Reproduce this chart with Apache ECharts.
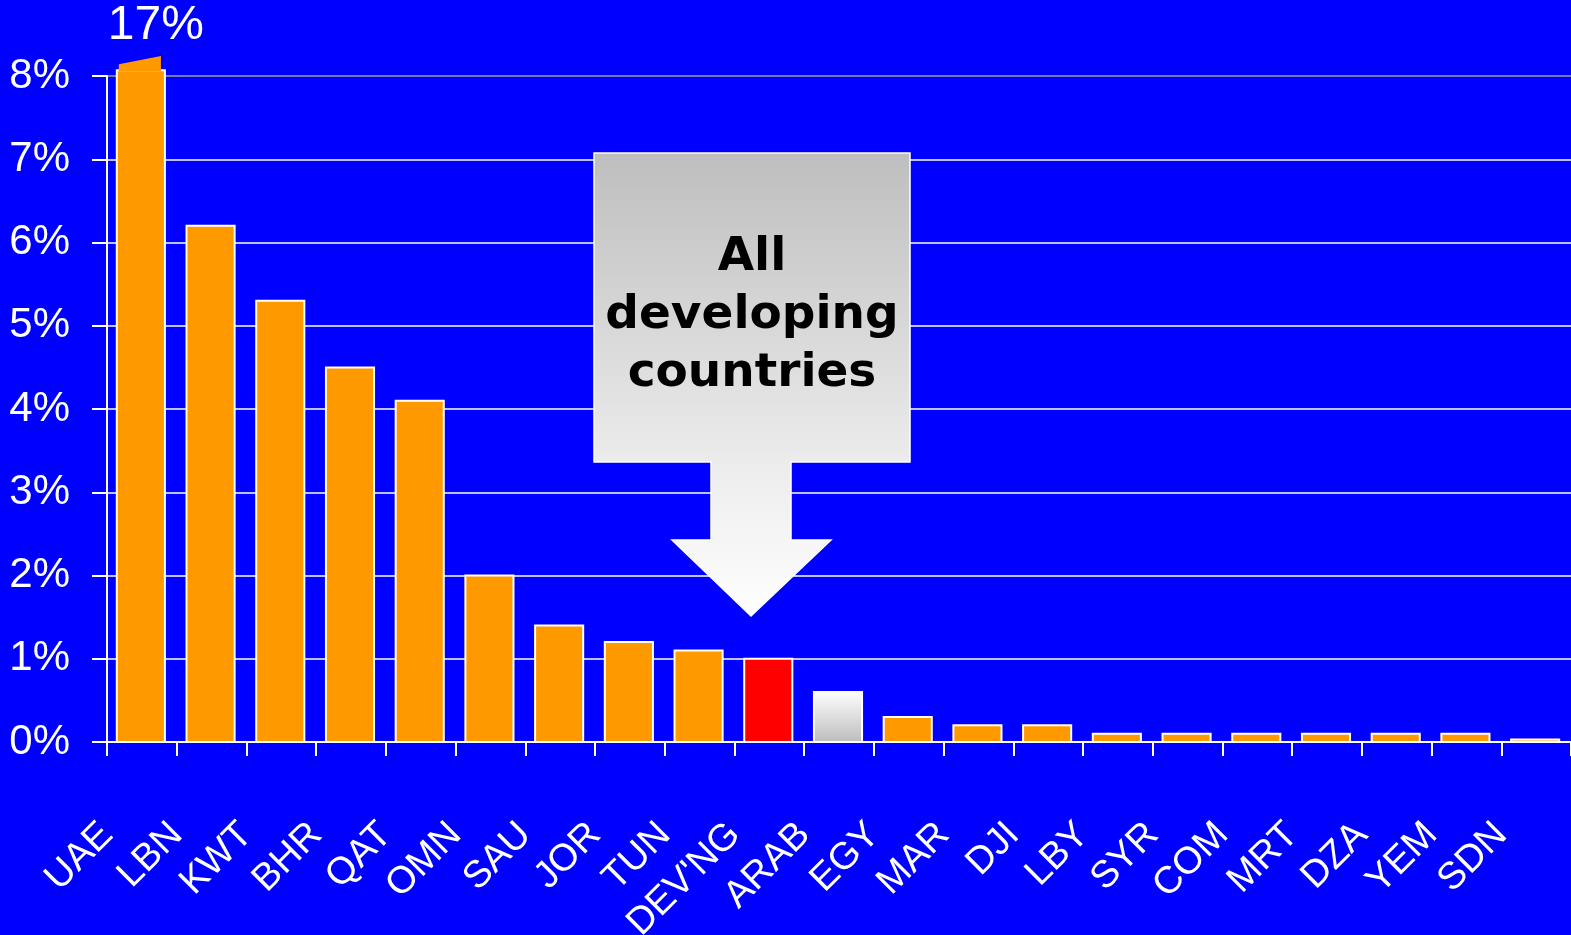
<!DOCTYPE html>
<html>
<head>
<meta charset="utf-8">
<title>Bar chart</title>
<script src="https://cdn.jsdelivr.net/npm/echarts@6/dist/echarts.min.js"></script>
<style>
html,body{margin:0;padding:0;background:#0000ff;}
#chart{width:1571px;height:935px;}
</style>
</head>
<body>
<div id="chart"></div>
<script>
// 数据
var countries = ['UAE','LBN','KWT','BHR','QAT','OMN','SAU','JOR','TUN',"DEV'NG",'ARAB','EGY','MAR','DJI','LBY','SYR','COM','MRT','DZA','YEM','SDN'];
var shares = [17, 6.2, 5.3, 4.5, 4.1, 2.0, 1.4, 1.2, 1.1, 1.0, 0.6, 0.3, 0.2, 0.2, 0.1, 0.1, 0.1, 0.1, 0.1, 0.1, 0.03];
var yTicks = [0, 1, 2, 3, 4, 5, 6, 7, 8];
var highlight = {9: 'red', 10: 'grey'};

var ORANGE = '#ff9900';
var yMax = yTicks[yTicks.length - 1];

var oChart = echarts.init(document.getElementById('chart'));

function barFill(i){
    if(highlight[i] === 'red'){
        return '#ff0000';
    }
    if(highlight[i] === 'grey'){
        return new echarts.graphic.LinearGradient(0, 0, 0, 1, [
            {offset: 0, color: '#ffffff'},
            {offset: 1, color: '#bcbcbc'}
        ]);
    }
    return ORANGE;
}

// 柱子：超出坐标轴的值画成折断的顶部
function renderBar(params, api){
    var i = api.value(0), v = api.value(1);
    var shown = Math.min(v, yMax + 0.07);
    var base = api.coord([i, 0]);
    var top = api.coord([i, shown]);
    var w = api.size([1, 0])[0] * 0.69;
    var x = base[0] - w / 2 - 1;
    var children = [{
        type: 'rect',
        shape: {x: x, y: top[1], width: w, height: base[1] - top[1]},
        style: {fill: barFill(i), stroke: '#ffffff', lineWidth: 2}
    }];
    if(v > yMax){
        var yl = api.coord([i, yMax + 0.14])[1];
        var yr = api.coord([i, yMax + 0.24])[1];
        children.push({
            type: 'polygon',
            shape: {points: [[x + 2, top[1] + 1], [x + 2, yl], [x + w - 4, yr], [x + w - 4, top[1] + 1]]},
            style: {fill: ORANGE}
        });
        children.push({
            type: 'text',
            style: {
                text: v + '%', x: base[0] + 14, y: yr - 6,
                align: 'center', verticalAlign: 'bottom',
                fill: '#ffffff', font: '48px "Liberation Sans"'
            }
        });
    }
    return {type: 'group', children: children};
}

var option = {
    backgroundColor: '#0000ff',
    animation: false,
    grid: {left: 107, right: 0, top: 76, bottom: 193, containLabel: false, outerBoundsMode: 'none'},
    xAxis: [
        {
            type: 'category',
            data: countries,
            axisLine: {show: true, lineStyle: {color: '#ffffff', width: 2}},
            axisTick: {show: true, length: 14, lineStyle: {color: '#ffffff', width: 2}},
            axisLabel: {show: false},
            splitLine: {show: false},
            z: 10
        },
        {
            // 标签放在刻度线处
            type: 'value',
            min: 0, max: countries.length, interval: 1,
            position: 'bottom',
            axisLine: {show: false},
            axisTick: {show: false},
            splitLine: {show: false},
            axisLabel: {
                rotate: 45, margin: 87,
                color: '#ffffff',
                fontFamily: 'Liberation Sans', fontSize: 38,
                formatter: function(v){ return countries[v] || ''; }
            }
        }
    ],
    yAxis: {
        type: 'value',
        min: 0, max: yMax, interval: 1,
        axisLine: {show: true, lineStyle: {color: '#ffffff', width: 2}},
        axisTick: {show: true, length: 15, lineStyle: {color: '#ffffff', width: 2}},
        splitLine: {
            lineStyle: {
                color: yTicks.map(function(t){ return t === yMax ? '#a0a0a0' : '#ffffff'; }),
                width: 1.5
            }
        },
        axisLabel: {
            margin: 37, color: '#ffffff',
            fontFamily: 'Liberation Sans', fontSize: 42,
            formatter: '{value}%'
        }
    },
    series: [
        {
            type: 'custom',
            renderItem: renderBar,
            encode: {x: 0, y: 1},
            data: shares.map(function(v, i){ return [i, v]; }),
            z: 5
        }
    ],
    graphic: [
        {
            type: 'polygon',
            z: 100,
            shape: {points: [[594,153],[910,153],[910,462],[791,462],[791,540],[831,540],[751,616],[672,540],[711,540],[711,462],[594,462]]},
            style: {
                fill: new echarts.graphic.LinearGradient(0, 0, 0, 1, [
                    {offset: 0, color: '#bebebe'},
                    {offset: 0.67, color: '#ececec'},
                    {offset: 1, color: '#ffffff'}
                ]),
                stroke: '#ffffff', lineWidth: 1.5
            }
        },
        {
            type: 'text',
            z: 101,
            style: {
                text: 'All\ndeveloping\ncountries',
                x: 752, y: 316,
                align: 'center', verticalAlign: 'middle',
                lineHeight: 58,
                fill: '#000000',
                font: 'bold 47px "DejaVu Sans"'
            }
        }
    ]
};
oChart.setOption(option);
</script>
</body>
</html>
